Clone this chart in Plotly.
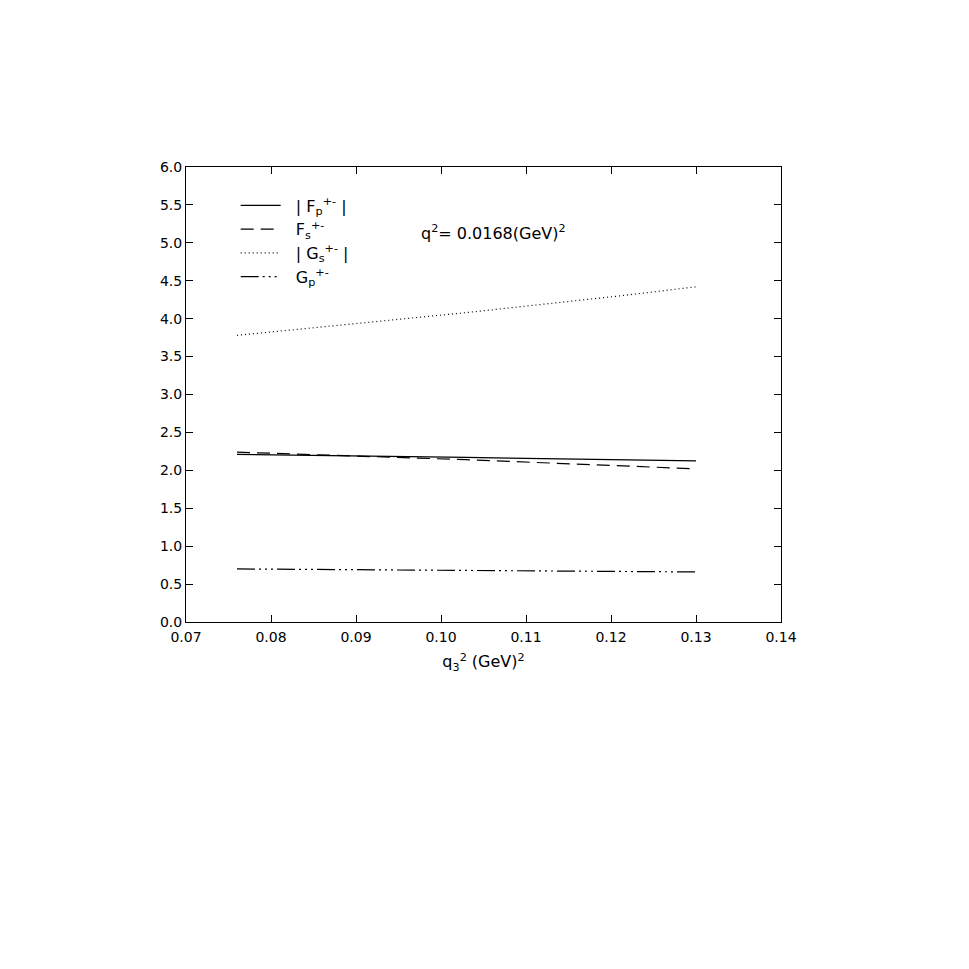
import plotly.graph_objects as go

# q3^2 (GeV)^2
q3_sq = [0.076, 0.085, 0.094, 0.103, 0.112, 0.121, 0.130]

# form factors
fp_abs = [2.21, 2.20, 2.185, 2.17, 2.155, 2.14, 2.125]
fs = [2.24, 2.21, 2.175, 2.14, 2.10, 2.06, 2.02]
gs_abs = [3.78, 3.88, 3.98, 4.08, 4.19, 4.30, 4.42]
gp = [0.70, 0.695, 0.69, 0.68, 0.675, 0.665, 0.66]

series_names = [
    '&nbsp;&nbsp;| F<sub>p</sub><sup>+-</sup> |',
    '&nbsp;&nbsp;F<sub>s</sub><sup>+-</sup>',
    '&nbsp;&nbsp;| G<sub>s</sub><sup>+-</sup> |',
    '&nbsp;&nbsp;G<sub>p</sub><sup>+-</sup>',
]
dashes = ['solid', '13px,7px', '1px,3px', '18px,4px,2px,4px,2px,4px,2px,4px']

fig = go.Figure()
for name, ys, dash in zip(series_names, [fp_abs, fs, gs_abs, gp], dashes):
    fig.add_trace(go.Scatter(
        x=q3_sq, y=ys, mode='lines', name=name,
        line=dict(color='black', width=1.2, dash=dash),
    ))

axis_common = dict(
    showgrid=False, zeroline=False, showline=True, linecolor='black',
    linewidth=1, mirror='ticks', ticks='inside', ticklen=7,
    tickcolor='black', tickfont=dict(size=14, color='black'),
)

fig.update_layout(
    width=969, height=969,
    paper_bgcolor='white', plot_bgcolor='white',
    margin=dict(l=178, r=196, t=159, b=355),
    font=dict(family='DejaVu Sans, sans-serif', color='black'),
    xaxis=dict(
        range=[0.07, 0.14], dtick=0.01, tickformat='.2f',
        ticklabelstandoff=2,
        title=dict(text='q<sub>3</sub><sup>2</sup>&nbsp;(GeV)<sup>2</sup>',
                   font=dict(size=16), standoff=12),
        **axis_common,
    ),
    yaxis=dict(range=[0, 6], dtick=0.5, tickformat='.1f', **axis_common),
    legend=dict(
        x=0.0835, y=0.953, xanchor='left', yanchor='top',
        bgcolor='rgba(0,0,0,0)', font=dict(size=16),
        tracegroupgap=0, itemwidth=40,
    ),
    showlegend=True,
)

fig.add_annotation(
    x=0.1062, y=5.14, xref='x', yref='y', xanchor='center',
    text='q<sup>2</sup>= 0.0168(GeV)<sup>2</sup>',
    showarrow=False, font=dict(size=16, color='black'),
)

fig.write_html('out.html')
